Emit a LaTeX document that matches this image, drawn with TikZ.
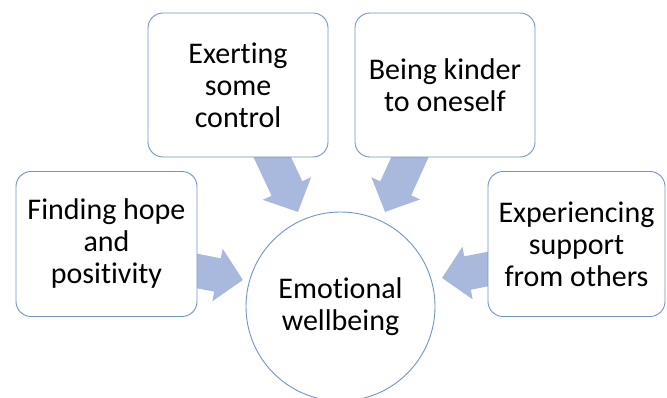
\documentclass[tikz,border=0pt]{standalone}
\usepackage{fontspec}
\setmainfont{Carlito}[Ligatures=NoCommon]
\usetikzlibrary{arrows.meta,shapes.geometric}
\definecolor{arrowfill}{HTML}{A9B8DD}
\definecolor{boxline}{HTML}{7094CB}
\tikzset{
  idea/.style={draw=boxline, line width=0.9pt, fill=white, rounded corners=15pt,
    align=center, font=\fontsize{30}{32}\selectfont, inner sep=0pt},
  hub/.style={draw=boxline, line width=0.9pt, fill=white, circle, align=center,
    font=\fontsize{30}{32}\selectfont, inner sep=0pt, minimum size=189pt},
  blockarrow/.style={draw=arrowfill, line width=34pt,
    -{Triangle[width=52pt,length=26pt,fill=arrowfill]}}
}
\begin{document}
\begin{tikzpicture}[x=1pt,y=-1pt]
\useasboundingbox (0,0) rectangle (667,398);
% arrow anchor coordinates
\coordinate (s1) at (185,268.6);
\coordinate (t1) at (243,280);
\coordinate (s2) at (267,146);
\coordinate (t2) at (298,212);
\coordinate (s3) at (415,146);
\coordinate (t3) at (385,212);
\coordinate (s4) at (500,266.7);
\coordinate (t4) at (442,278);
\draw[blockarrow] (s1) -- (t1);
\draw[blockarrow] (s2) -- (t2);
\draw[blockarrow] (s3) -- (t3);
\draw[blockarrow] (s4) -- (t4);
% nodes
\node[idea, minimum width=181pt, minimum height=145pt] (hope) at (106.5,244) {Finding hope\\and\\positivity};
\node[idea, minimum width=180pt, minimum height=144pt] (control) at (238,85) {Exerting\\some\\control};
\node[idea, minimum width=180pt, minimum height=144pt] (kind) at (445,85) {Being kinder\\to oneself};
\node[idea, minimum width=177pt, minimum height=145pt] (support) at (576.5,244) {Experiencing\\support\\from others};
\node[hub] (well) at (340.5,306.5) {Emotional\\wellbeing};
\end{tikzpicture}
\end{document}
